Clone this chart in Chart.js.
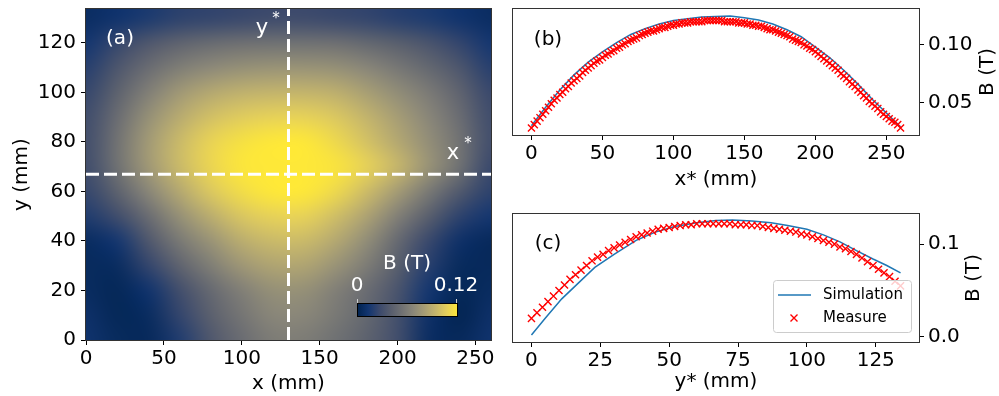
<!DOCTYPE html>
<html>
<head>
<meta charset="utf-8">
<script src="https://cdn.jsdelivr.net/npm/chart.js@4.4.0/dist/chart.umd.min.js"></script>
<style>
    html, body { margin: 0; padding: 0; background: #ffffff; }
    #wrap { position: relative; width: 999px; height: 396px; overflow: hidden; }
    .panel { position: absolute; }
    #pa { left: 0; top: 0; width: 500px; height: 396px; }
    #pb { left: 500px; top: 0; width: 499px; height: 198px; }
    #pc { left: 500px; top: 198px; width: 499px; height: 198px; }
</style>
</head>
<body>
<div id="wrap">
    <div class="panel" id="pa"><canvas id="mapChart"></canvas></div>
    <div class="panel" id="pb"><canvas id="xCutChart"></canvas></div>
    <div class="panel" id="pc"><canvas id="yCutChart"></canvas></div>
</div>
<script>
// (a) field map, B in mT on a 20 mm x 10 mm grid (rows from y = 0 upward)
const mapX = [0, 20, 40, 60, 80, 100, 120, 140, 160, 180, 200, 220, 240, 260];
const mapY = [0, 10, 20, 30, 40, 50, 60, 70, 80, 90, 100, 110, 120, 130];
const mapB = [
    [12, 6, 5, 18, 36, 50, 60, 60, 53, 43, 30, 8, 5, 12],
    [10, 4, 7, 24, 42, 56, 66, 66, 58, 47, 31, 10, 2, 10],
    [7, 4, 12, 30, 48, 62, 72, 72, 62, 50, 34, 14, 4, 7],
    [6, 7, 24, 44, 61, 76, 84, 84, 74, 60, 41, 20, 6, 5],
    [7, 14, 36, 58, 74, 89, 96, 96, 86, 70, 48, 26, 10, 5],
    [18, 29, 50, 72, 89, 102, 108, 108, 98, 83, 62, 41, 22, 14],
    [25, 43, 66, 86, 103, 114, 120, 120, 112, 97, 79, 58, 37, 22],
    [29, 53, 77, 96, 110, 119, 122, 122, 118, 108, 94, 74, 53, 26],
    [30, 54, 78, 96, 109, 116, 120, 120, 112, 100, 86, 71, 54, 30],
    [29, 50, 72, 88, 99, 105, 108, 108, 103, 93, 80, 66, 50, 29],
    [25, 43, 62, 77, 86, 91, 93, 93, 90, 81, 70, 59, 44, 26],
    [20, 35, 50, 61, 68, 72, 74, 74, 72, 66, 57, 47, 35, 20],
    [14, 25, 36, 44, 49, 52, 53, 53, 52, 47, 41, 34, 24, 14],
    [8, 12, 17, 22, 24, 26, 28, 28, 26, 24, 20, 17, 12, 8],
];
const mapXTicks = [0, 50, 100, 150, 200, 250];
const mapYTicks = [0, 20, 40, 60, 80, 100, 120];
const cutX = 130; // y* line
const cutY = 67;  // x* line
const colorMax = 0.12;

// (b) cut along x*
const simXb = [0, 10, 20, 30, 40, 50, 60, 70, 80, 90, 100, 110, 120, 130, 140, 150, 160, 170, 180, 190, 200, 210, 220, 230, 240, 250, 260];
const simBb = [0.030, 0.046, 0.061, 0.074, 0.085, 0.094, 0.102, 0.109, 0.114, 0.118, 0.121, 0.1225, 0.124, 0.1245, 0.125, 0.1235, 0.1215, 0.118, 0.113, 0.107, 0.098, 0.089, 0.078, 0.066, 0.053, 0.041, 0.029];
const measStep = 2;
const measBb = [
    0.028, 0.031, 0.034, 0.037, 0.040, 0.043, 0.046, 0.049, 0.052, 0.054,
    0.057, 0.059, 0.062, 0.064, 0.067, 0.069, 0.071, 0.073, 0.076, 0.078,
    0.080, 0.082, 0.084, 0.086, 0.087, 0.089, 0.091, 0.092, 0.094, 0.095,
    0.097, 0.098, 0.100, 0.101, 0.103, 0.104, 0.105, 0.106, 0.108, 0.109,
    0.110, 0.111, 0.112, 0.112, 0.113, 0.114, 0.115, 0.115, 0.116, 0.117,
    0.117, 0.118, 0.118, 0.119, 0.119, 0.119, 0.120, 0.120, 0.120, 0.120,
    0.120, 0.121, 0.121, 0.121, 0.121, 0.121, 0.121, 0.121, 0.120, 0.120,
    0.120, 0.120, 0.120, 0.119, 0.119, 0.119, 0.118, 0.118, 0.117, 0.117,
    0.116, 0.116, 0.115, 0.114, 0.113, 0.113, 0.112, 0.111, 0.110, 0.109,
    0.108, 0.107, 0.105, 0.104, 0.103, 0.102, 0.100, 0.099, 0.097, 0.096,
    0.094, 0.092, 0.090, 0.088, 0.086, 0.084, 0.082, 0.080, 0.078, 0.075,
    0.073, 0.071, 0.068, 0.066, 0.064, 0.061, 0.059, 0.056, 0.054, 0.051,
    0.049, 0.047, 0.045, 0.042, 0.040, 0.038, 0.036, 0.034, 0.033, 0.031,
    0.028,
];
const xbTicks = [0, 50, 100, 150, 200, 250];
const bbTicks = [0.05, 0.10];

// (c) cut along y*
const simYc = [0, 5, 11, 17, 23, 30, 38, 45, 52, 60, 67, 73, 80, 87, 93, 100, 106, 112, 118, 124, 129, 134];
const simBc = [0.002, 0.020, 0.041, 0.058, 0.075, 0.089, 0.104, 0.113, 0.119, 0.123, 0.1255, 0.126, 0.125, 0.123, 0.120, 0.116, 0.110, 0.1025, 0.093, 0.084, 0.077, 0.069];
const measBc = [
    0.020, 0.026, 0.032, 0.038, 0.044, 0.050, 0.056, 0.062, 0.067, 0.072,
    0.077, 0.082, 0.086, 0.089, 0.093, 0.096, 0.099, 0.102, 0.105, 0.108,
    0.110, 0.112, 0.114, 0.116, 0.117, 0.118, 0.119, 0.120, 0.121, 0.121,
    0.122, 0.122, 0.122, 0.122, 0.122, 0.122, 0.122, 0.121, 0.121, 0.121,
    0.120, 0.120, 0.119, 0.118, 0.117, 0.116, 0.115, 0.114, 0.113, 0.111,
    0.110, 0.108, 0.106, 0.104, 0.102, 0.100, 0.097, 0.095, 0.092, 0.089,
    0.085, 0.081, 0.077, 0.073, 0.069, 0.065, 0.060, 0.055,
];
const ycTicks = [0, 25, 50, 75, 100, 125];
const bcTicks = [0.0, 0.1];

document.addEventListener("DOMContentLoaded", function () {
    const ink = "#000000";
    const frameColor = "#333333";
    const simColor = "#1f77b4";
    const measColor = "#ff0000";
    const fontFamily = "'DejaVu Sans', sans-serif";
    const cividisHex = ["#00224e", "#123570", "#3b496c", "#575d6d", "#707173", "#8a8779", "#a69d75", "#c4b56c", "#e4cf5b", "#fee838"];
    const cividisRgb = cividisHex.map((h) => [1, 3, 5].map((i) => parseInt(h.substr(i, 2), 16)));

    Chart.defaults.font.family = fontFamily;
    Chart.defaults.font.size = 20;
    Chart.defaults.color = ink;

    function cividis(t) {
        t = Math.min(1, Math.max(0, t));
        const p = t * (cividisRgb.length - 1);
        const i = Math.min(Math.floor(p), cividisRgb.length - 2);
        const f = p - i;
        const a = cividisRgb[i];
        const b = cividisRgb[i + 1];
        return [0, 1, 2].map((k) => Math.round(a[k] + (b[k] - a[k]) * f));
    }

    function makeAxis(o) {
        return {
            type: "linear",
            position: o.position,
            bounds: "data",
            min: o.min,
            max: o.max,
            afterBuildTicks: (s) => {
                s.ticks = o.ticks.map((v) => ({ value: v }));
            },
            afterFit: (s) => {
                if (s.isHorizontal()) {
                    s.height = o.size;
                    s.paddingLeft = 0;
                    s.paddingRight = 0;
                } else {
                    s.width = o.size;
                    s.paddingTop = 0;
                    s.paddingBottom = 0;
                }
            },
            ticks: {
                color: ink,
                padding: o.pad,
                autoSkip: false,
                maxRotation: 0,
                font: { size: 20 },
                callback: o.format,
            },
            grid: {
                drawOnChartArea: false,
                drawTicks: true,
                tickLength: 5,
                tickWidth: 1,
                tickColor: ink,
            },
            border: { display: false },
            title: o.title
                ? { display: true, text: o.title, color: ink, font: { size: 20 }, padding: o.titlePad }
                : { display: false },
        };
    }

    function drawText(ctx, text, x, y, size, color, align) {
        ctx.save();
        ctx.font = size + "px " + fontFamily;
        ctx.fillStyle = color;
        ctx.textAlign = align || "center";
        ctx.textBaseline = "middle";
        ctx.fillText(text, x, y);
        ctx.restore();
    }

    const framePlugin = {
        id: "frame",
        afterDatasetsDraw(chart) {
            const { ctx, chartArea: a } = chart;
            ctx.save();
            ctx.strokeStyle = frameColor;
            ctx.lineWidth = 1;
            ctx.strokeRect(Math.round(a.left) - 0.5, Math.round(a.top) - 0.5, Math.round(a.width) + 1, Math.round(a.height) + 1);
            ctx.restore();
        },
    };

    const heatmapPlugin = {
        id: "heatmap",
        beforeDatasetsDraw(chart) {
            const { ctx, chartArea, scales } = chart;
            const cols = mapX.length;
            const rows = mapY.length;
            const off = document.createElement("canvas");
            off.width = cols + 2;
            off.height = rows + 2;
            const octx = off.getContext("2d");
            const img = octx.createImageData(cols + 2, rows + 2);
            for (let j = 0; j < rows + 2; j++) {
                const row = mapB[rows - 1 - Math.min(rows - 1, Math.max(0, j - 1))];
                for (let i = 0; i < cols + 2; i++) {
                    const val = row[Math.min(cols - 1, Math.max(0, i - 1))] / 1000;
                    const c = cividis(val / colorMax);
                    const k = (j * (cols + 2) + i) * 4;
                    img.data[k] = c[0];
                    img.data[k + 1] = c[1];
                    img.data[k + 2] = c[2];
                    img.data[k + 3] = 255;
                }
            }
            octx.putImageData(img, 0, 0);
            const hx = (mapX[1] - mapX[0]) / 2;
            const hy = (mapY[1] - mapY[0]) / 2;
            const x0 = scales.x.getPixelForValue(mapX[0] - hx);
            const x1 = scales.x.getPixelForValue(mapX[cols - 1] + hx);
            const y0 = scales.y.getPixelForValue(mapY[rows - 1] + hy);
            const y1 = scales.y.getPixelForValue(mapY[0] - hy);
            ctx.save();
            ctx.beginPath();
            ctx.rect(chartArea.left, chartArea.top, chartArea.width, chartArea.height);
            ctx.clip();
            ctx.imageSmoothingEnabled = true;
            ctx.imageSmoothingQuality = "high";
            ctx.drawImage(off, 1, 1, cols, rows, x0, y0, x1 - x0, y1 - y0);
            ctx.restore();
        },
    };

    const mapLabelsPlugin = {
        id: "mapLabels",
        afterDraw(chart) {
            const { ctx, chartArea: a } = chart;
            const white = "#ffffff";
            drawText(ctx, "(a)", a.left + 34, a.top + 30, 20, white);
            drawText(ctx, "y", a.left + 176, a.top + 20, 21, white);
            drawText(ctx, "*", a.left + 190, a.top + 10, 15, white);
            drawText(ctx, "x", a.left + 367, a.top + 145, 21, white);
            drawText(ctx, "*", a.left + 382, a.top + 135, 15, white);

            // colour bar inset
            const bx = a.left + 271;
            const by = a.top + 294;
            const bw = 101;
            const bh = 14;
            const grad = ctx.createLinearGradient(bx, 0, bx + bw, 0);
            cividisHex.forEach((c, i) => grad.addColorStop(i / (cividisHex.length - 1), c));
            ctx.save();
            ctx.fillStyle = grad;
            ctx.fillRect(bx, by, bw, bh);
            ctx.strokeStyle = "#000000";
            ctx.lineWidth = 1;
            ctx.strokeRect(bx + 0.5, by + 0.5, bw - 1, bh - 1);
            ctx.strokeStyle = "#cccccc";
            ctx.beginPath();
            ctx.moveTo(bx + 0.5, by - 4);
            ctx.lineTo(bx + 0.5, by);
            ctx.moveTo(bx + bw - 1.5, by - 4);
            ctx.lineTo(bx + bw - 1.5, by);
            ctx.stroke();
            ctx.restore();
            drawText(ctx, "0", bx, by - 17, 20, white);
            drawText(ctx, "0.12", bx + bw - 2, by - 17, 20, white);
            drawText(ctx, "B (T)", bx + 50, by - 39, 20, white);
        },
    };

    function cutLabelsPlugin(tag, tagY, axisTitleX) {
        return {
            id: "cutLabels" + tag,
            afterDatasetsDraw(chart) {
                const { ctx, chartArea: a } = chart;
                drawText(ctx, tag, a.left + 35, tagY, 20, ink);
                ctx.save();
                ctx.translate(axisTitleX, a.top + a.height / 2);
                ctx.rotate(-Math.PI / 2);
                drawText(ctx, "B (T)", 0, 0, 20, ink);
                ctx.restore();
            },
        };
    }

    const legendPlugin = {
        id: "insetLegend",
        afterDraw(chart) {
            const { ctx } = chart;
            const lx = 273;
            const ly = 82;
            const lw = 138;
            const lh = 52;
            ctx.save();
            ctx.fillStyle = "rgba(255,255,255,0.8)";
            ctx.strokeStyle = "#cccccc";
            ctx.lineWidth = 1;
            ctx.beginPath();
            ctx.roundRect(lx + 0.5, ly + 0.5, lw, lh, 3);
            ctx.fill();
            ctx.stroke();
            ctx.strokeStyle = simColor;
            ctx.lineWidth = 1.5;
            ctx.beginPath();
            ctx.moveTo(lx + 5, ly + 15);
            ctx.lineTo(lx + 38, ly + 15);
            ctx.stroke();
            ctx.strokeStyle = measColor;
            ctx.lineWidth = 1.4;
            const mx = lx + 21;
            const my = ly + 38;
            ctx.beginPath();
            ctx.moveTo(mx - 3.5, my - 3.5);
            ctx.lineTo(mx + 3.5, my + 3.5);
            ctx.moveTo(mx - 3.5, my + 3.5);
            ctx.lineTo(mx + 3.5, my - 3.5);
            ctx.stroke();
            ctx.restore();
            drawText(ctx, "Simulation", lx + 50, ly + 15, 15, ink, "left");
            drawText(ctx, "Measure", lx + 50, ly + 38, 15, ink, "left");
        },
    };

    const commonOptions = {
        responsive: true,
        maintainAspectRatio: false,
        animation: false,
        events: [],
        plugins: {
            legend: { display: false },
            tooltip: { enabled: false },
        },
    };

    const toPoints = (xs, ys) => ys.map((v, i) => ({ x: xs[i], y: v }));
    const measPoints = (ys) => ys.map((v, i) => ({ x: i * measStep, y: v }));

    function simDataset(points) {
        return {
            label: "Simulation",
            data: points,
            showLine: true,
            borderColor: simColor,
            backgroundColor: simColor,
            borderWidth: 1.5,
            pointRadius: 0,
            tension: 0,
            order: 1,
        };
    }

    function measDataset(points) {
        return {
            label: "Measure",
            data: points,
            showLine: false,
            pointStyle: "crossRot",
            pointRadius: 5,
            pointBorderWidth: 1.4,
            borderColor: measColor,
            pointBorderColor: measColor,
            backgroundColor: measColor,
            order: 0,
        };
    }

    const dashLine = {
        showLine: true,
        borderColor: "#ffffff",
        borderWidth: 3,
        borderDash: [13, 5],
        pointRadius: 0,
    };

    const mapCanvas = document.getElementById("mapChart");
    if (mapCanvas) {
        new Chart(mapCanvas.getContext("2d"), {
            type: "scatter",
            data: {
                datasets: [
                    Object.assign({ data: [{ x: cutX, y: 0 }, { x: cutX, y: 134 }] }, dashLine),
                    Object.assign({ data: [{ x: 0, y: cutY }, { x: 260, y: cutY }] }, dashLine),
                ],
            },
            options: Object.assign({}, commonOptions, {
                layout: { padding: { top: 9, right: 9, left: 0, bottom: 0 } },
                scales: {
                    x: makeAxis({ position: "bottom", min: 0, max: 260, ticks: mapXTicks, size: 56, pad: 2, format: (v) => String(v), title: "x (mm)", titlePad: { top: 0, bottom: 0 } }),
                    y: makeAxis({ position: "left", min: 0, max: 133.7, ticks: mapYTicks, size: 86, pad: 5, format: (v) => String(v), title: "y (mm)", titlePad: { top: 10, bottom: 0 } }),
                },
            }),
            plugins: [heatmapPlugin, framePlugin, mapLabelsPlugin],
        });
    }

    const xCutCanvas = document.getElementById("xCutChart");
    if (xCutCanvas) {
        new Chart(xCutCanvas.getContext("2d"), {
            type: "scatter",
            data: {
                datasets: [simDataset(toPoints(simXb, simBb)), measDataset(measPoints(measBb))],
            },
            options: Object.assign({}, commonOptions, {
                layout: { padding: { top: 9, right: 0, left: 13, bottom: 0 } },
                scales: {
                    x: makeAxis({ position: "bottom", min: -13, max: 273, ticks: xbTicks, size: 63, pad: 2, format: (v) => String(v), title: "x* (mm)", titlePad: { top: 0, bottom: 6 } }),
                    y: makeAxis({ position: "right", min: 0.022, max: 0.131, ticks: bbTicks, size: 80, pad: 4, format: (v) => v.toFixed(2) }),
                },
            }),
            plugins: [framePlugin, cutLabelsPlugin("(b)", 40, 488)],
        });
    }

    const yCutCanvas = document.getElementById("yCutChart");
    if (yCutCanvas) {
        new Chart(yCutCanvas.getContext("2d"), {
            type: "scatter",
            data: {
                datasets: [simDataset(toPoints(simYc, simBc)), measDataset(measPoints(measBc))],
            },
            options: Object.assign({}, commonOptions, {
                layout: { padding: { top: 16, right: 0, left: 13, bottom: 0 } },
                scales: {
                    x: makeAxis({ position: "bottom", min: -6.7, max: 140.7, ticks: ycTicks, size: 54, pad: 2, format: (v) => String(v), title: "y* (mm)", titlePad: { top: 0, bottom: 2 } }),
                    y: makeAxis({ position: "right", min: -0.0055, max: 0.1325, ticks: bcTicks, size: 80, pad: 4, format: (v) => v.toFixed(1) }),
                },
            }),
            plugins: [framePlugin, cutLabelsPlugin("(c)", 46, 474), legendPlugin],
        });
    }
});
</script>
</body>
</html>
